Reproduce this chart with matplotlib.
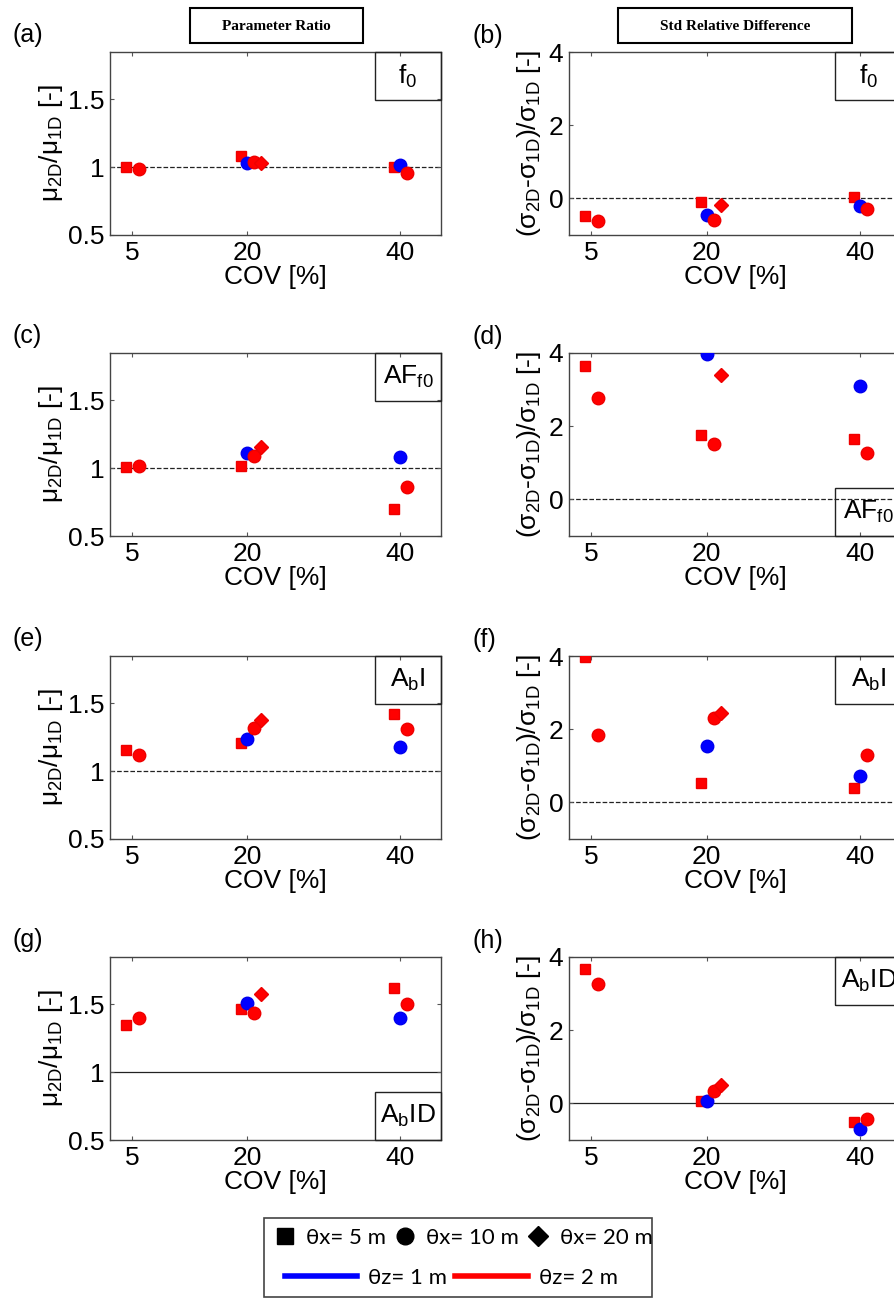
import matplotlib
matplotlib.use('Agg')
import matplotlib.pyplot as plt
from matplotlib.lines import Line2D
from matplotlib.patches import Rectangle

plt.rcParams['font.family'] = ['Liberation Sans', 'DejaVu Sans']
plt.rcParams['mathtext.default'] = 'regular'

# COV levels [%]
cov = [5, 20, 40]
cov_blue = [20, 40]
cov_dia = [20]

box_labels = ['$f_0$', '$AF_{f0}$', '$A_bI$', '$A_bID$']

# mean ratio mu2D/mu1D, one row per parameter (f0, AFf0, AbI, AbID)
ratio_sq_red = [[1.00, 1.08, 1.00], [1.01, 1.02, 0.70], [1.16, 1.21, 1.42], [1.35, 1.47, 1.62]]
ratio_circ_red = [[0.99, 1.04, 0.96], [1.02, 1.09, 0.86], [1.12, 1.32, 1.31], [1.40, 1.44, 1.50]]
ratio_circ_blue = [[1.03, 1.02], [1.11, 1.08], [1.24, 1.18], [1.51, 1.40]]
ratio_dia_red = [[1.03], [1.16], [1.38], [1.58]]

# std relative difference (s2D - s1D)/s1D
std_sq_red = [[-0.49, -0.10, 0.04], [3.65, 1.77, 1.64], [3.98, 0.53, 0.40], [3.68, 0.07, -0.50]]
std_circ_red = [[-0.63, -0.60, -0.28], [2.78, 1.52, 1.27], [1.84, 2.30, 1.29], [3.26, 0.35, -0.42]]
std_circ_blue = [[-0.45, -0.21], [3.96, 3.11], [1.54, 0.72], [0.06, -0.69]]
std_dia_red = [[-0.18], [3.40], [2.44], [0.50]]

# box corner per panel: 'top' or 'bottom'
box_left = ['top', 'top', 'top', 'bottom']
box_right = ['top', 'bottom', 'top', 'top']
ref_style = ['--', '--', '--', '-']
letters = ['a', 'b', 'c', 'd', 'e', 'f', 'g', 'h']

W, H = 894, 1299
fig = plt.figure(figsize=(W / 100, H / 100), dpi=100)

tops = [52, 353, 656, 957]
ah = 183


def fr(x0, y0, w, h):
    return [x0 / W, 1 - (y0 + h) / H, w / W, h / H]


def draw(ax, sq, cb, cr, dm, ref, ls, ylim, yticks, label, where):
    ax.plot([c - 0.8 for c in cov], sq, 's', color='#ff0000', ms=7, mec='#ee0000', zorder=3)
    ax.plot(cov_blue, cb, 'o', color='#0000ff', ms=9, mec='#0000ee', zorder=3)
    ax.plot([c + 0.9 for c in cov], cr, 'o', color='#ff0000', ms=9, mec='#ee0000', zorder=3)
    ax.plot([c + 1.9 for c in cov_dia], dm, 'D', color='#ff0000', ms=7.5, mec='#ee0000', zorder=3)
    ax.axhline(ref, color='#222222', ls=ls, lw=0.9, zorder=1)
    ax.set_xlim(2.1, 45.4)
    ax.set_ylim(*ylim)
    ax.set_xticks(cov)
    ax.set_yticks(yticks)
    ax.set_yticklabels([('%g' % t) for t in yticks])
    ax.tick_params(direction='in', length=3, top=True, right=True, labelsize=19,
                   color='#555555', pad=4)
    for s in ax.spines.values():
        s.set_color('#444444')
        s.set_linewidth(1.0)
    ax.set_xlabel('COV [%]', fontsize=19, labelpad=0)
    # parameter box
    bw, bh = 0.20, 0.265
    yb = 1 - bh if where == 'top' else 0
    ax.add_patch(Rectangle((1 - bw, yb), bw, bh, transform=ax.transAxes,
                           fill=False, ec='#222222', lw=1.0, clip_on=False, zorder=4))
    ax.text(1 - bw / 2, yb + bh / 2, label, transform=ax.transAxes, fontsize=19,
            ha='center', va='center', zorder=5)


for i in range(4):
    axl = fig.add_axes(fr(110, tops[i], 331, ah))
    draw(axl, ratio_sq_red[i], ratio_circ_blue[i], ratio_circ_red[i], ratio_dia_red[i],
         1, ref_style[i], (0.5, 1.85), [0.5, 1, 1.5], box_labels[i], box_left[i])
    axl.set_ylabel(r'$\mu_{2D}/\mu_{1D}$ [-]', fontsize=19, labelpad=2)

    axr = fig.add_axes(fr(569, tops[i], 333, ah))
    draw(axr, std_sq_red[i], std_circ_blue[i], std_circ_red[i], std_dia_red[i],
         0, ref_style[i], (-1, 4), [0, 2, 4], box_labels[i], box_right[i])
    axr.set_ylabel(r'$(\sigma_{2D}$-$\sigma_{1D})/\sigma_{1D}$ [-]', fontsize=19, labelpad=4)

    fig.text(12 / W, 1 - (tops[i] - 17) / H, '(%s)' % letters[2 * i], fontsize=18,
             ha='left', va='center')
    fig.text(472 / W, 1 - (tops[i] - 16) / H, '(%s)' % letters[2 * i + 1], fontsize=18,
             ha='left', va='center')

# column titles
for x0, x1, t in [(190, 363, 'Parameter Ratio'), (618, 852, 'Std Relative Difference')]:
    fig.patches.append(Rectangle((x0 / W, 1 - 43 / H), (x1 - x0) / W, 35 / H,
                                 transform=fig.transFigure, fill=False, ec='black', lw=1.5))
    fig.text((x0 + x1) / 2 / W, 1 - 26 / H, t, fontsize=11, fontweight='bold',
             family='Liberation Serif', ha='center', va='center')

# legend
fig.patches.append(Rectangle((264 / W, 1 - 1297 / H), 388 / W, 79 / H,
                             transform=fig.transFigure, fill=False, ec='#444444', lw=1.2))
mk = [Line2D([], [], ls='none', marker='s', color='black', ms=11),
      Line2D([], [], ls='none', marker='o', color='black', ms=12),
      Line2D([], [], ls='none', marker='D', color='black', ms=10)]
fig.legend(mk, ['θx= 5 m', 'θx= 10 m', 'θx= 20 m'], ncol=3, frameon=False,
           loc='center left', bbox_to_anchor=(274 / W, 1 - 1238 / H),
           handlelength=1.0, handletextpad=0.45, columnspacing=0.36, borderpad=0,
           borderaxespad=0, prop={'family': 'Lato', 'size': 16})
ln = [Line2D([], [], color='#0000ff', lw=4), Line2D([], [], color='#ff0000', lw=4)]
fig.legend(ln, ['θz= 1 m', 'θz= 2 m'], ncol=2, frameon=False,
           loc='center left', bbox_to_anchor=(285 / W, 1 - 1278 / H),
           handlelength=3.25, handletextpad=0.5, columnspacing=0.36, borderpad=0,
           borderaxespad=0, prop={'family': 'Lato', 'size': 16})

fig.savefig('out.png', dpi=100)
